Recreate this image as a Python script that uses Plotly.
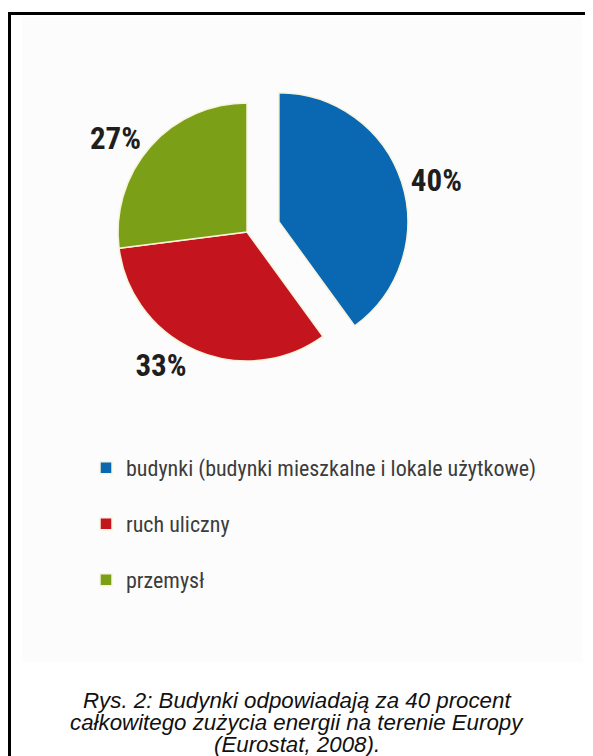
import plotly.graph_objects as go

# ---- data ----
categories = ["budynki (budynki mieszkalne i lokale użytkowe)", "ruch uliczny", "przemysł"]
shares = [40, 33, 27]
colors = ["#0a67b1", "#c4151f", "#7b9f16"]
pulls = [0.26, 0, 0]
caption_lines = [
    "Rys. 2: Budynki odpowiadają za 40 procent",
    "całkowitego zużycia energii na terenie Europy",
    "(Eurostat, 2008).",
]

# the page body has an 8px margin, so the figure fills the remaining view
OFF = 8
W, H = 593 - OFF, 756 - OFF
COND = "Roboto Condensed, DejaVu Sans Condensed, Liberation Sans Narrow, Roboto"

def px(p):
    return (p - OFF) / W

def py(p):
    return 1 - (p - OFF) / H

legend_labels = ["<span style='font-size:22px'>%s</span><br> " % c for c in categories]

fig = go.Figure(go.Pie(
    labels=legend_labels,
    values=shares,
    sort=False,
    direction="clockwise",
    rotation=0,
    pull=pulls,
    marker=dict(colors=colors, line=dict(color="#f7f4dc", width=1.5)),
    textposition="outside",
    texttemplate="%{value}%",
    outsidetextfont=dict(family=COND, size=31, color="#1e1e1e", weight="bold"),
    domain=dict(x=[px(84.5), px(409.5)], y=[py(394.5), py(69.5)]),
    hoverinfo="skip",
    showlegend=True,
    automargin=False,
))

shapes = [
    dict(type="rect", xref="paper", yref="paper", x0=px(22), x1=px(582), y0=py(662), y1=py(17),
         fillcolor="#fcfcfc", line=dict(width=0), layer="below"),
    dict(type="line", xref="paper", yref="paper", x0=px(9.5), x1=1, y0=py(13.5), y1=py(13.5),
         line=dict(color="black", width=3)),
    dict(type="line", xref="paper", yref="paper", x0=px(9.5), x1=px(9.5), y0=0, y1=py(12),
         line=dict(color="black", width=3)),
]

caption_y = [700, 722, 744]
annotations = [
    dict(text=t, xref="paper", yref="paper", x=px(296.5), y=py(yc), xanchor="center", yanchor="middle",
         showarrow=False,
         font=dict(family="Liberation Sans, Arial", size=22.3, color="#111111", style="italic"))
    for t, yc in zip(caption_lines, caption_y)
]

fig.update_layout(
    width=W, height=H,
    margin=dict(l=0, r=0, t=0, b=0, autoexpand=False),
    paper_bgcolor="white",
    plot_bgcolor="white",
    shapes=shapes,
    annotations=annotations,
    legend=dict(
        x=px(86), y=py(448), xanchor="left", yanchor="top",
        font=dict(family=COND, size=20.4, color="#3c3c3c"),
        valign="top",
        bgcolor="rgba(0,0,0,0)",
        traceorder="normal",
    ),
)

fig.write_html("out.html")
